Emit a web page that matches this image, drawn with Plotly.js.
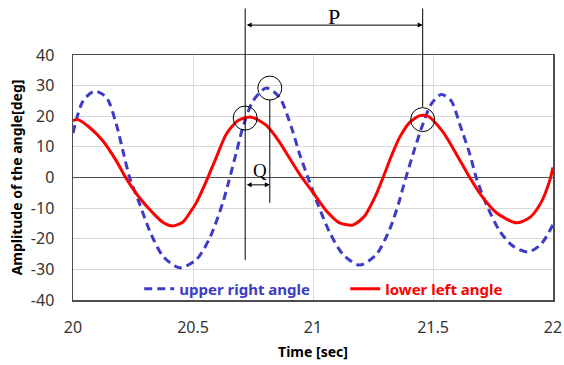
<!DOCTYPE html>
<html>
<head>
<meta charset="utf-8">
<script src="https://cdn.plot.ly/plotly-3.0.1.min.js"></script>
<style>html,body{margin:0;padding:0;background:#fff;}#chart{width:564px;height:365px;}</style>
</head>
<body>
<div id="chart"></div>
<script>
// Upper right angle (blue dashed)
const blueTime = [20.0,20.042,20.09,20.139,20.18,20.208,20.236,20.278,20.32,20.375,20.444,20.514,20.57,20.625,20.65,20.68,20.708,20.75,20.806,20.86,20.91,20.944,20.979,21.02,21.07,21.125,21.194,21.264,21.32,21.36,21.375,21.417,21.458,21.493,21.535,21.576,21.611,21.653,21.68,21.722,21.778,21.833,21.896,21.95,22.0];
const blueAngle = [14.5,25,28.2,26.2,17.5,8.7,0,-8.7,-17.5,-25.7,-29.5,-26.8,-19.7,-8,-1,8,16.4,25,29.2,26.2,16.4,7.7,0,-8.7,-18,-25.1,-28.6,-25.1,-16.8,-7.6,-3.3,7.7,17.5,24,27.1,25,17.5,7.7,0,-8.7,-17.5,-22.4,-24.3,-21.8,-15.3];
// Lower left angle (red solid)
const redTime = [20.0,20.02,20.068,20.124,20.18,20.221,20.277,20.332,20.374,20.415,20.457,20.492,20.514,20.556,20.597,20.639,20.688,20.743,20.806,20.861,20.9,20.944,21.0,21.056,21.111,21.167,21.215,21.257,21.292,21.327,21.361,21.403,21.445,21.48,21.542,21.597,21.653,21.708,21.764,21.847,21.903,21.95,21.986,22.0];
const redAngle = [18.6,18.9,16.4,12,5.5,-0.2,-6.6,-11.5,-14.6,-15.8,-14.6,-10.9,-8.2,-1.1,6.6,14.2,18.6,19.7,17,11.5,6.6,1.1,-4.9,-10.9,-14.8,-15.5,-12.6,-6.6,0,7.1,13.1,18,20.2,20,14.8,7.7,0,-6.6,-11.5,-14.8,-13.1,-8.2,-1.1,3.3];

const seriesNames = ['upper right angle', 'lower left angle'];
const yTickVals = [-40,-30,-20,-10,0,10,20,30,40];
const yTickText = ['-40','-30','-20','-10','0','10','20','30','40'];
const xTickVals = [20,20.5,21,21.5,22];
const xTickText = ['20','20.5','21','21.5','22'];

// Marked points: [time, angle]
const redPeak1 = [20.7175, 19.4];
const bluePeak = [20.82, 29.2];
const redPeak2 = [21.457, 18.9];

const BLUE = '#3c3cc8';
const RED = '#ff0000';
const INK = '#000000';

const traces = [
  {x: blueTime, y: blueAngle, mode: 'lines', name: '<b><span style="color:' + BLUE + '">' + seriesNames[0] + '</span></b>',
   line: {color: BLUE, width: 3, dash: '8px,5px', shape: 'spline', smoothing: 0.8}},
  {x: redTime, y: redAngle, mode: 'lines', name: '<b><span style="color:' + RED + '">' + seriesNames[1] + '</span></b>',
   line: {color: RED, width: 3, shape: 'spline', smoothing: 0.7}}
];

function circle(p) {
  return {type: 'circle', xref: 'x', yref: 'y', xsizemode: 'pixel', ysizemode: 'pixel',
    xanchor: p[0], yanchor: p[1], x0: -12, x1: 12, y0: -12, y1: 12,
    line: {color: INK, width: 1}, layer: 'above'};
}
function vline(x, yref, y0, y1) {
  return {type: 'line', xref: 'x', yref: yref, x0: x, x1: x, y0: y0, y1: y1,
    line: {color: INK, width: 1}, layer: 'above'};
}

const shapes = [
  vline(redPeak1[0], 'paper', 0.163, 1.19),
  vline(redPeak2[0], 'paper', 0.788, 1.19),
  vline(bluePeak[0], 'y', -8.3, 25.4),
  circle(redPeak1), circle(bluePeak), circle(redPeak2)
];

const annotations = [
  {x: redPeak2[0], y: 1.122, xref: 'x', yref: 'paper', axref: 'x', ayref: 'pixel', ax: redPeak1[0], ay: 0,
   showarrow: true, arrowhead: 2, arrowside: 'end+start', arrowsize: 1, arrowwidth: 1, arrowcolor: INK, text: '', standoff: 0, startstandoff: 0},
  {x: (redPeak1[0] + redPeak2[0]) / 2, y: 1.158, xref: 'x', yref: 'paper', yanchor: 'middle', text: 'P', showarrow: false,
   font: {family: 'Liberation Serif, serif', size: 22, color: INK}},
  {x: bluePeak[0], y: -2.4, xref: 'x', yref: 'y', axref: 'x', ayref: 'pixel', ax: redPeak1[0], ay: 0,
   showarrow: true, arrowhead: 2, arrowside: 'end+start', arrowsize: 1, arrowwidth: 1, arrowcolor: INK, text: '', standoff: 0, startstandoff: 0},
  {x: (redPeak1[0] + bluePeak[0]) / 2 + 0.012, y: 2.3, xref: 'x', yref: 'y', yanchor: 'middle', text: 'Q', showarrow: false,
   font: {family: 'Liberation Serif, serif', size: 19, color: INK}}
];

const layout = {
  width: 564, height: 365,
  margin: {l: 73, r: 11, t: 55, b: 65},
  paper_bgcolor: '#ffffff', plot_bgcolor: '#ffffff',
  font: {family: 'Noto Sans, sans-serif', color: '#404040'},
  showlegend: true,
  legend: {orientation: 'h', x: 0.138, xanchor: 'left', y: 0.045, yanchor: 'middle',
    bgcolor: 'rgba(0,0,0,0)', font: {size: 15, family: 'Noto Sans, sans-serif'},
    entrywidth: 161, entrywidthmode: 'pixels', tracegroupgap: 0},
  xaxis: {range: [20, 22], tickvals: xTickVals, ticktext: xTickText,
    showgrid: true, gridcolor: '#d9d9d9', gridwidth: 1, zeroline: false,
    showline: true, mirror: true, linecolor: '#4d4d4d', linewidth: 1.5,
    ticks: 'outside', ticklen: 12, tickcolor: 'rgba(0,0,0,0)',
    tickfont: {size: 16, color: '#333333'},
    title: {text: '<b>Time [sec]</b>', font: {size: 14, color: '#000000'}, standoff: 10}},
  yaxis: {range: [-40, 40], tickvals: yTickVals, ticktext: yTickText,
    showgrid: true, gridcolor: '#d9d9d9', gridwidth: 1,
    zeroline: true, zerolinecolor: '#4d4d4d', zerolinewidth: 1.5,
    showline: true, mirror: true, linecolor: '#4d4d4d', linewidth: 1.5,
    ticks: 'outside', ticklen: 14, tickcolor: 'rgba(0,0,0,0)',
    tickfont: {size: 16, color: '#333333'},
    title: {text: '<b>Amplitude of the angle[deg]</b>', font: {size: 14, color: '#000000'}, standoff: 5}},
  shapes: shapes,
  annotations: annotations
};

Plotly.newPlot('chart', traces, layout, {displayModeBar: false, staticPlot: true});
</script>
</body>
</html>
